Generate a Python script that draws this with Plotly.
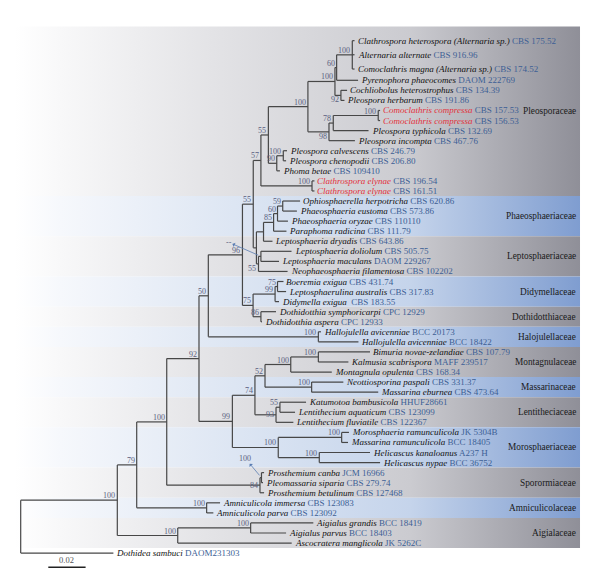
import plotly.graph_objects as go

# ---------------- data ----------------
leaf_names = [
    "Clathrospora heterospora (Alternaria sp.)", "Alternaria alternate", "Comoclathris magna (Alternaria sp.)",
    "Pyrenophora phaeocomes", "Cochliobolus heterostrophus", "Pleospora herbarum",
    "Comoclathris compressa", "Comoclathris compressa", "Pleospora typhicola", "Pleospora incompta",
    "Pleospora calvescens", "Pleospora chenopodii", "Phoma betae", "Clathrospora elynae", "Clathrospora elynae",
    "Ophiosphaerella herpotricha", "Phaeosphaeria eustoma", "Phaeosphaeria oryzae", "Paraphoma radicina",
    "Leptosphaeria dryadis", "Leptosphaeria doliolum", "Leptosphaeria maculans", "Neophaeosphaeria filamentosa",
    "Boeremia exigua", "Leptosphaerulina australis", "Didymella exigua", "Dothidotthia symphoricarpi",
    "Dothidotthia aspera", "Hallojulella avicenniae", "Hallojulella avicenniae", "Bimuria novae-zelandiae",
    "Kalmusia scabrispora", "Montagnula opulenta", "Neottiosporina paspali", "Massarina eburnea",
    "Katumotoa bambusicola", "Lentithecium aquaticum", "Lentithecium fluviatile", "Morosphaeria ramunculicola",
    "Massarina ramunculicola", "Helicascus kanaloanus", "Helicascus nypae", "Prosthemium canba",
    "Pleomassaria siparia", "Prosthemium betulinum", "Amniculicola immersa", "Amniculicola parva",
    "Aigialus grandis", "Aigialus parvus", "Ascocratera manglicola", "Dothidea sambuci",
]
leaf_accessions = [
    "CBS 175.52", "CBS 916.96", "CBS 174.52", "DAOM 222769", "CBS 134.39", "CBS 191.86",
    "CBS 157.53", "CBS 156.53", "CBS 132.69", "CBS 467.76", "CBS 246.79", "CBS 206.80", "CBS 109410",
    "CBS 196.54", "CBS 161.51", "CBS 620.86", "CBS 573.86", "CBS 110110", "CBS 111.79", "CBS 643.86",
    "CBS 505.75", "DAOM 229267", "CBS 102202", "CBS 431.74", "CBS 317.83", " CBS 183.55", "CPC 12929",
    "CPC 12933", "BCC 20173", "BCC 18422", "CBS 107.79", "MAFF 239517", "CBS 168.34", "CBS 331.37",
    "CBS 473.64", "HHUF28661", "CBS 123099", "CBS 122367", "JK 5304B", "BCC 18405", "A237 H",
    "BCC 36752", "JCM 16966", "CBS 279.74", "CBS 127468", "CBS 123083", "CBS 123092", "BCC 18419",
    "BCC 18403", "JK 5262C", "DAOM231303",
]
highlighted_leaves = [6, 7, 13, 14]
leaf_row = [-0.94, 0.46, 1.88, 3, 4, 5, 6, 7, 8, 9, 10, 11, 12, 13, 14, 15, 16, 17, 18, 19, 20,
            21, 22, 23, 24, 25, 26, 27, 28, 29, 30, 31, 32, 33, 34, 35, 36, 37, 38, 39, 40,
            41, 42, 43, 44, 45, 46, 47, 48, 49, 50]
leaf_depth = [
    0.1790, 0.1790, 0.1790, 0.1809, 0.1750, 0.1736, 0.1927, 0.1927, 0.1865, 0.1792,
    0.1428, 0.1423, 0.1390, 0.1575, 0.1575, 0.1498, 0.1481, 0.1433, 0.1425, 0.1350,
    0.1452, 0.1385, 0.1431, 0.1409, 0.1423, 0.1385, 0.1369, 0.1294, 0.1610, 0.1811,
    0.1873, 0.1757, 0.1668, 0.1730, 0.1917, 0.1530, 0.1471, 0.1462, 0.1760, 0.1755,
    0.1873, 0.1927, 0.1305, 0.1299, 0.1305, 0.1069, 0.1033, 0.1569, 0.1423, 0.1453,
    0.0497,
]

node_ids = ["tri", "n60", "n92", "nA", "nCC", "n78", "n98", "nP", "nCalv", "n90", "n55a", "nEly",
            "n57", "n59", "n60b", "n85", "nPh", "nLd", "n55c", "nPL", "n55b", "nBoe", "n99d", "n86",
            "n75", "n96", "nHal", "n50", "nBK", "nMon", "nMas", "n52", "nKL", "n93", "n74", "nMM",
            "nHel", "nMor", "n99", "n92b", "nPS", "n84", "n100c", "nAm", "n79", "nAig", "nAigF",
            "n100d", "root"]
node_children = [
    [0, 1, 2], ["tri", 3], [4, 5], ["n60", "n92"], [6, 7], ["nCC", 8], ["n78", 9], ["nA", "n98"],
    [10, 11], ["nCalv", 12], ["nP", "n90"], [13, 14], ["n55a", "nEly"], [15, 16], ["n59", 17],
    ["n60b", 18], ["n85", 19], [20, 21], ["nLd", 22], ["nPh", "n55c"], ["n57", "nPL"], [23, 24],
    ["nBoe", 25], [26, 27], ["n99d", "n86"], ["n55b", "n75"], [28, 29], ["n96", "nHal"], [30, 31],
    ["nBK", 32], [33, 34], ["nMon", "nMas"], [35, 36], ["nKL", 37], ["n52", "n93"], [38, 39],
    [40, 41], ["nMM", "nHel"], ["n74", "nMor"], ["n50", "n99"], [42, 43], ["nPS", 44],
    ["n92b", "n84"], [45, 46], ["n100c", "nAm"], [47, 48], ["nAig", 49], ["n79", "nAigF"],
    ["n100d", 50],
]
node_depth = [
    0.1778, 0.1694, 0.1717, 0.1685, 0.1917, 0.1676, 0.1653, 0.1540, 0.1408, 0.1373, 0.1328, 0.1562,
    0.1288, 0.1405, 0.1377, 0.1356, 0.1302, 0.1288, 0.1275, 0.1264, 0.1247, 0.1377, 0.1364, 0.1288,
    0.1246, 0.1189, 0.1596, 0.1006, 0.1596, 0.1448, 0.1560, 0.1310, 0.1390, 0.1369, 0.1256, 0.1721,
    0.1601, 0.1381, 0.1135, 0.0956, 0.1291, 0.1283, 0.0783, 0.0997, 0.0622, 0.1233, 0.0842,
    0.0518, 0.0,
]
node_support = [
    "100", "60", "92", "100", "100", "78", "98", "100", "100", "90", "55", "100",
    "57", "59", "60", "85", "", "", "55", "", "55", "75", "99", "86",
    "75", "96", "100", "50", "100", "100", "100", "52", "55", "93", "74", "100",
    "100", "100", "99", "92", "", "84", "100", "100", "79", "100", "100",
    "100", "",
]
# where the support value sits: n = above the node, b = below, m = level with it
node_label_pos = [
    "n", "n", "b", "n", "n", "n", "b", "n", "n", "n", "n", "n",
    "n", "n", "n", "n", "n", "n", "b", "n", "n", "n", "n", "n",
    "n", "n", "n", "n", "n", "n", "n", "n", "n", "m", "n", "n",
    "n", "n", "n", "n", "n", "m", "n", "n", "n", "n", "n",
    "n", "n",
]
callout_nodes = ["nLd", "nPS"]
callout_texts = ["--", "100"]
callout_offsets = [(-32, -14), (-16, -19)]

family_names = ["Pleosporaceae", "Phaeosphaeriaceae", "Leptosphaeriaceae", "Didymellaceae",
                "Dothidotthiaceae", "Halojulellaceae", "Montagnulaceae", "Massarinaceae",
                "Lentitheciaceae", "Morosphaeriaceae", "Sporormiaceae", "Amniculicolaceae",
                "Aigialaceae"]
family_first = [0, 15, 19, 23, 26, 28, 30, 33, 35, 38, 42, 45, 47]
family_last = [14, 18, 22, 25, 27, 29, 32, 34, 37, 41, 44, 46, 49]
family_tint = ["gray", "blue", "gray", "blue", "gray", "blue", "gray", "blue", "gray", "blue",
               "gray", "blue", "gray"]

scale_bar_length = 0.02
scale_bar_start = 0.0148
scale_bar_row = 51.4

# ---------------- layout helpers ----------------
# the page body adds an 8px margin, so the figure is drawn 8px smaller each way
FIG_W, FIG_H = 584, 572
X_RANGE = [-0.00681, 0.30633]
Y_RANGE = [52.672, -4.187]
BAND_X0, BAND_X1, GRAD_X0 = -0.00681, 0.2999, -0.0031
FAMILY_X = 0.2983

LINE_COLOR = "#474747"
SUPPORT_COLOR = "#5a6180"
ACC_COLOR = "#3d5f95"
RED = "#e3303b"
FONT = "Liberation Serif"

node_index = {nid: i for i, nid in enumerate(node_ids)}
ycache = {}


def ypos(ref):
    if isinstance(ref, int):
        return leaf_row[ref]
    if ref in ycache:
        return ycache[ref]
    ch = node_children[node_index[ref]]
    y = (ypos(ch[0]) + ypos(ch[-1])) / 2.0
    ycache[ref] = y
    return y


def xpos(ref):
    if isinstance(ref, int):
        return leaf_depth[ref]
    return node_depth[node_index[ref]]


fig = go.Figure()

# background bands with horizontal gradient
scales = {
    "gray": [[0, "#ffffff"], [0.08, "#f8f8f9"], [0.35, "#e3e3e6"], [0.7, "#cbcbd0"], [1, "#8f8f98"]],
    "blue": [[0, "#ffffff"], [0.08, "#f6f8fc"], [0.35, "#e0e8f4"], [0.7, "#c5d4eb"], [1, "#7f9dd0"]],
}
for k, fam in enumerate(family_names):
    if k == 0:
        top = leaf_row[family_first[k]] - 1.4
    else:
        top = (leaf_row[family_first[k]] + leaf_row[family_last[k - 1]]) / 2
    if k < len(family_names) - 1:
        bot = (leaf_row[family_last[k]] + leaf_row[family_first[k + 1]]) / 2
    else:
        bot = leaf_row[family_last[k]] + 0.5
    fig.add_trace(go.Scatter(
        x=[BAND_X0, BAND_X1, BAND_X1, BAND_X0, BAND_X0], y=[top, top, bot, bot, top],
        mode="lines", line=dict(width=0), fill="toself",
        fillgradient=dict(type="horizontal", colorscale=scales[family_tint[k]],
                          start=GRAD_X0, stop=BAND_X1),
        hoverinfo="skip", showlegend=False))
    fig.add_annotation(x=FAMILY_X, y=(top + bot) / 2, text=fam, showarrow=False,
                       xanchor="right", yanchor="middle", borderpad=0,
                       font=dict(family=FONT, size=9.3, color="#1a1a1a"))

# tree lines
lx, ly = [], []
for i, nid in enumerate(node_ids):
    ch = node_children[i]
    x0 = node_depth[i]
    lx += [x0, x0, None]
    ly += [ypos(ch[0]), ypos(ch[-1]), None]
    for c in ch:
        lx += [x0, xpos(c), None]
        ly += [ypos(c), ypos(c), None]
fig.add_trace(go.Scatter(x=lx, y=ly, mode="lines", line=dict(color=LINE_COLOR, width=1.2),
                         hoverinfo="skip", showlegend=False))

# scale bar
fig.add_trace(go.Scatter(x=[scale_bar_start, scale_bar_start + scale_bar_length],
                         y=[scale_bar_row, scale_bar_row], mode="lines",
                         line=dict(color="#222222", width=1.4), hoverinfo="skip", showlegend=False))
fig.add_annotation(x=scale_bar_start + scale_bar_length / 2, y=scale_bar_row, yshift=7,
                   text=f"{scale_bar_length:.2f}", showarrow=False, borderpad=0,
                   font=dict(family=FONT, size=8.5, color="#555555"))

# leaf labels
for i, name in enumerate(leaf_names):
    nm = f"<i>{name}</i>"
    if i in highlighted_leaves:
        nm = f"<span style='color:{RED}'><i>{name}</i></span>"
    txt = f"{nm} <span style='color:{ACC_COLOR}'>{leaf_accessions[i]}</span>"
    fig.add_annotation(x=leaf_depth[i], y=leaf_row[i], text=txt, showarrow=False,
                       xanchor="left", yanchor="middle", xshift=2, borderpad=0,
                       font=dict(family=FONT, size=9, color="#111111"))

# support values
shifts = {"n": 4.5, "b": -4.5, "m": 0}
for i, nid in enumerate(node_ids):
    s = node_support[i]
    if not s:
        continue
    fig.add_annotation(x=node_depth[i], y=ypos(nid), text=s, showarrow=False,
                       xanchor="right", yanchor="middle", xshift=-1, borderpad=0,
                       yshift=shifts[node_label_pos[i]],
                       font=dict(family=FONT, size=8, color=SUPPORT_COLOR))

# callouts
for nid, t, (ax, ay) in zip(callout_nodes, callout_texts, callout_offsets):
    fig.add_annotation(x=node_depth[node_index[nid]], y=ypos(nid), text=t, showarrow=True,
                       ax=ax, ay=ay, arrowside="start", arrowhead=2, arrowsize=0.8,
                       arrowwidth=0.8, arrowcolor="#5a7db3", standoff=3, startstandoff=0,
                       borderpad=0, font=dict(family=FONT, size=8, color=SUPPORT_COLOR))

fig.update_layout(
    width=FIG_W, height=FIG_H, margin=dict(l=0, r=0, t=0, b=0),
    paper_bgcolor="white", plot_bgcolor="white", showlegend=False,
    xaxis=dict(range=X_RANGE, visible=False, showgrid=False, zeroline=False, fixedrange=True),
    yaxis=dict(range=Y_RANGE, visible=False, showgrid=False, zeroline=False, fixedrange=True),
)
fig.write_html("out.html")
